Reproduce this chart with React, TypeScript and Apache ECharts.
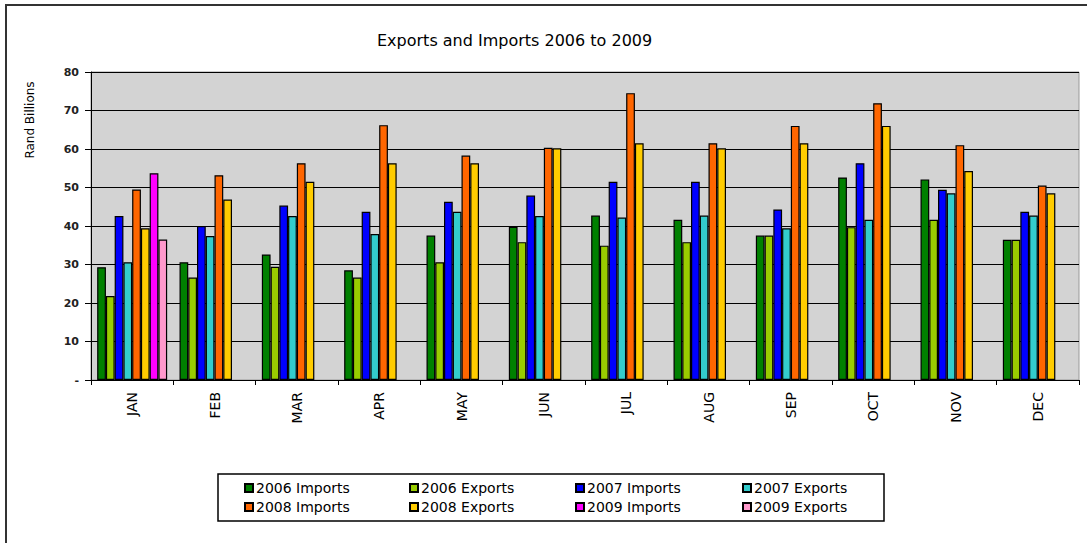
import React, { useEffect, useRef } from "react";
import * as echarts from "echarts";

const months = ["JAN", "FEB", "MAR", "APR", "MAY", "JUN", "JUL", "AUG", "SEP", "OCT", "NOV", "DEC"];

const imports2006 = [29.3, 30.6, 32.6, 28.5, 37.5, 39.8, 42.7, 41.6, 37.5, 52.6, 52.1, 36.4];
const exports2006 = [21.8, 26.6, 29.4, 26.6, 30.6, 35.8, 34.9, 35.8, 37.5, 39.7, 41.6, 36.4];
const imports2007 = [42.6, 40.0, 45.3, 43.7, 46.3, 47.9, 51.5, 51.5, 44.3, 56.3, 49.4, 43.7];
const exports2007 = [30.6, 37.4, 42.6, 37.9, 43.7, 42.6, 42.2, 42.7, 39.4, 41.6, 48.5, 42.7];
const imports2008 = [49.5, 53.2, 56.3, 66.2, 58.3, 60.3, 74.5, 61.5, 66.0, 71.9, 61.0, 50.5];
const exports2008 = [39.4, 46.9, 51.5, 56.3, 56.3, 60.2, 61.5, 60.2, 61.5, 66.0, 54.3, 48.5];
const imports2009 = [53.7, null, null, null, null, null, null, null, null, null, null, null];
const exports2009 = [36.5, null, null, null, null, null, null, null, null, null, null, null];

const seriesNames = [
  "2006 Imports",
  "2006 Exports",
  "2007 Imports",
  "2007 Exports",
  "2008 Imports",
  "2008 Exports",
  "2009 Imports",
  "2009 Exports",
];
const seriesData = [imports2006, exports2006, imports2007, exports2007, imports2008, exports2008, imports2009, exports2009];
const seriesColors = ["#008000", "#99cc00", "#0000ff", "#33cccc", "#ff6600", "#ffcc00", "#ff00ff", "#ff99cc"];

const legendColumns = [
  ["2006 Imports", "2008 Imports"],
  ["2006 Exports", "2008 Exports"],
  ["2007 Imports", "2009 Imports"],
  ["2007 Exports", "2009 Exports"],
];
const legendLefts = [244, 409, 575, 742];

const FONT = "'DejaVu Sans', 'Liberation Sans', Arial, sans-serif";

export default function App() {
  const ref = useRef<HTMLDivElement>(null);

  useEffect(() => {
    if (!ref.current) return;
    const chart = echarts.init(ref.current, undefined, { renderer: "svg" });
    const option: any = {
      animation: false,
      backgroundColor: "#ffffff",
      title: {
        text: "Exports and Imports 2006 to 2009",
        left: 372,
        top: 27,
        textStyle: { fontFamily: FONT, fontSize: 16, fontWeight: "normal", color: "#000" },
      },
      grid: {
        left: 91,
        right: 8,
        top: 72,
        bottom: 163,
        show: true,
        backgroundColor: "#d3d3d3",
        borderColor: "#999999",
        borderWidth: 1,
      },
      xAxis: {
        type: "category",
        data: months,
        axisLine: { lineStyle: { color: "#000", width: 1 } },
        axisTick: { show: true, alignWithLabel: false, length: 5, lineStyle: { color: "#000" } },
        axisLabel: {
          rotate: 90,
          margin: 12,
          fontFamily: FONT,
          fontSize: 14,
          color: "#000",
        },
      },
      yAxis: {
        type: "value",
        min: 0,
        max: 80,
        interval: 10,
        axisLine: { show: true, lineStyle: { color: "#000", width: 1 } },
        axisTick: { show: true, length: 6, lineStyle: { color: "#000" } },
        splitLine: { show: true, lineStyle: { color: "#000", width: 1 } },
        axisLabel: {
          margin: 12,
          fontFamily: FONT,
          fontSize: 11,
          fontWeight: "bold",
          color: "#222",
          formatter: (v: number) => (v === 0 ? "-" : String(v)),
        },
      },
      legend: legendColumns.map((names, i) => ({
        data: names,
        orient: "vertical",
        left: legendLefts[i],
        top: 480,
        itemWidth: 8,
        itemHeight: 8,
        itemGap: 3,
        icon: "rect",
        padding: 0,
        textStyle: { fontFamily: FONT, fontSize: 14, color: "#000", lineHeight: 16, padding: [0, 0, 0, -2] },
      })),
      graphic: [
        {
          type: "rect",
          shape: { x: 6, y: 5, width: 1200, height: 700 },
          style: { fill: "none", stroke: "#333", lineWidth: 2 },
          silent: true,
          z: -10,
        },
        {
          type: "rect",
          shape: { x: 218, y: 474, width: 666, height: 47 },
          style: { fill: "#fff", stroke: "#000", lineWidth: 1.5 },
          silent: true,
          z: -5,
        },
        {
          type: "text",
          x: 30,
          y: 120,
          rotation: Math.PI / 2,
          style: {
            text: "Rand Billions",
            fontFamily: FONT,
            fontSize: 12,
            fill: "#000",
            align: "center",
            verticalAlign: "middle",
          },
          silent: true,
        },
      ],
      series: seriesNames.map((name, i) => ({
        name,
        type: "bar",
        data: seriesData[i],
        barGap: "0%",
        barCategoryGap: "15%",
        itemStyle: { color: seriesColors[i], borderColor: "#000", borderWidth: 1.2 },
      })),
    };
    chart.setOption(option);
    return () => chart.dispose();
  }, []);

  return (
    <div
      ref={ref}
      style={{ position: "fixed", left: 0, top: 0, width: 1087, height: 543 }}
    />
  );
}
